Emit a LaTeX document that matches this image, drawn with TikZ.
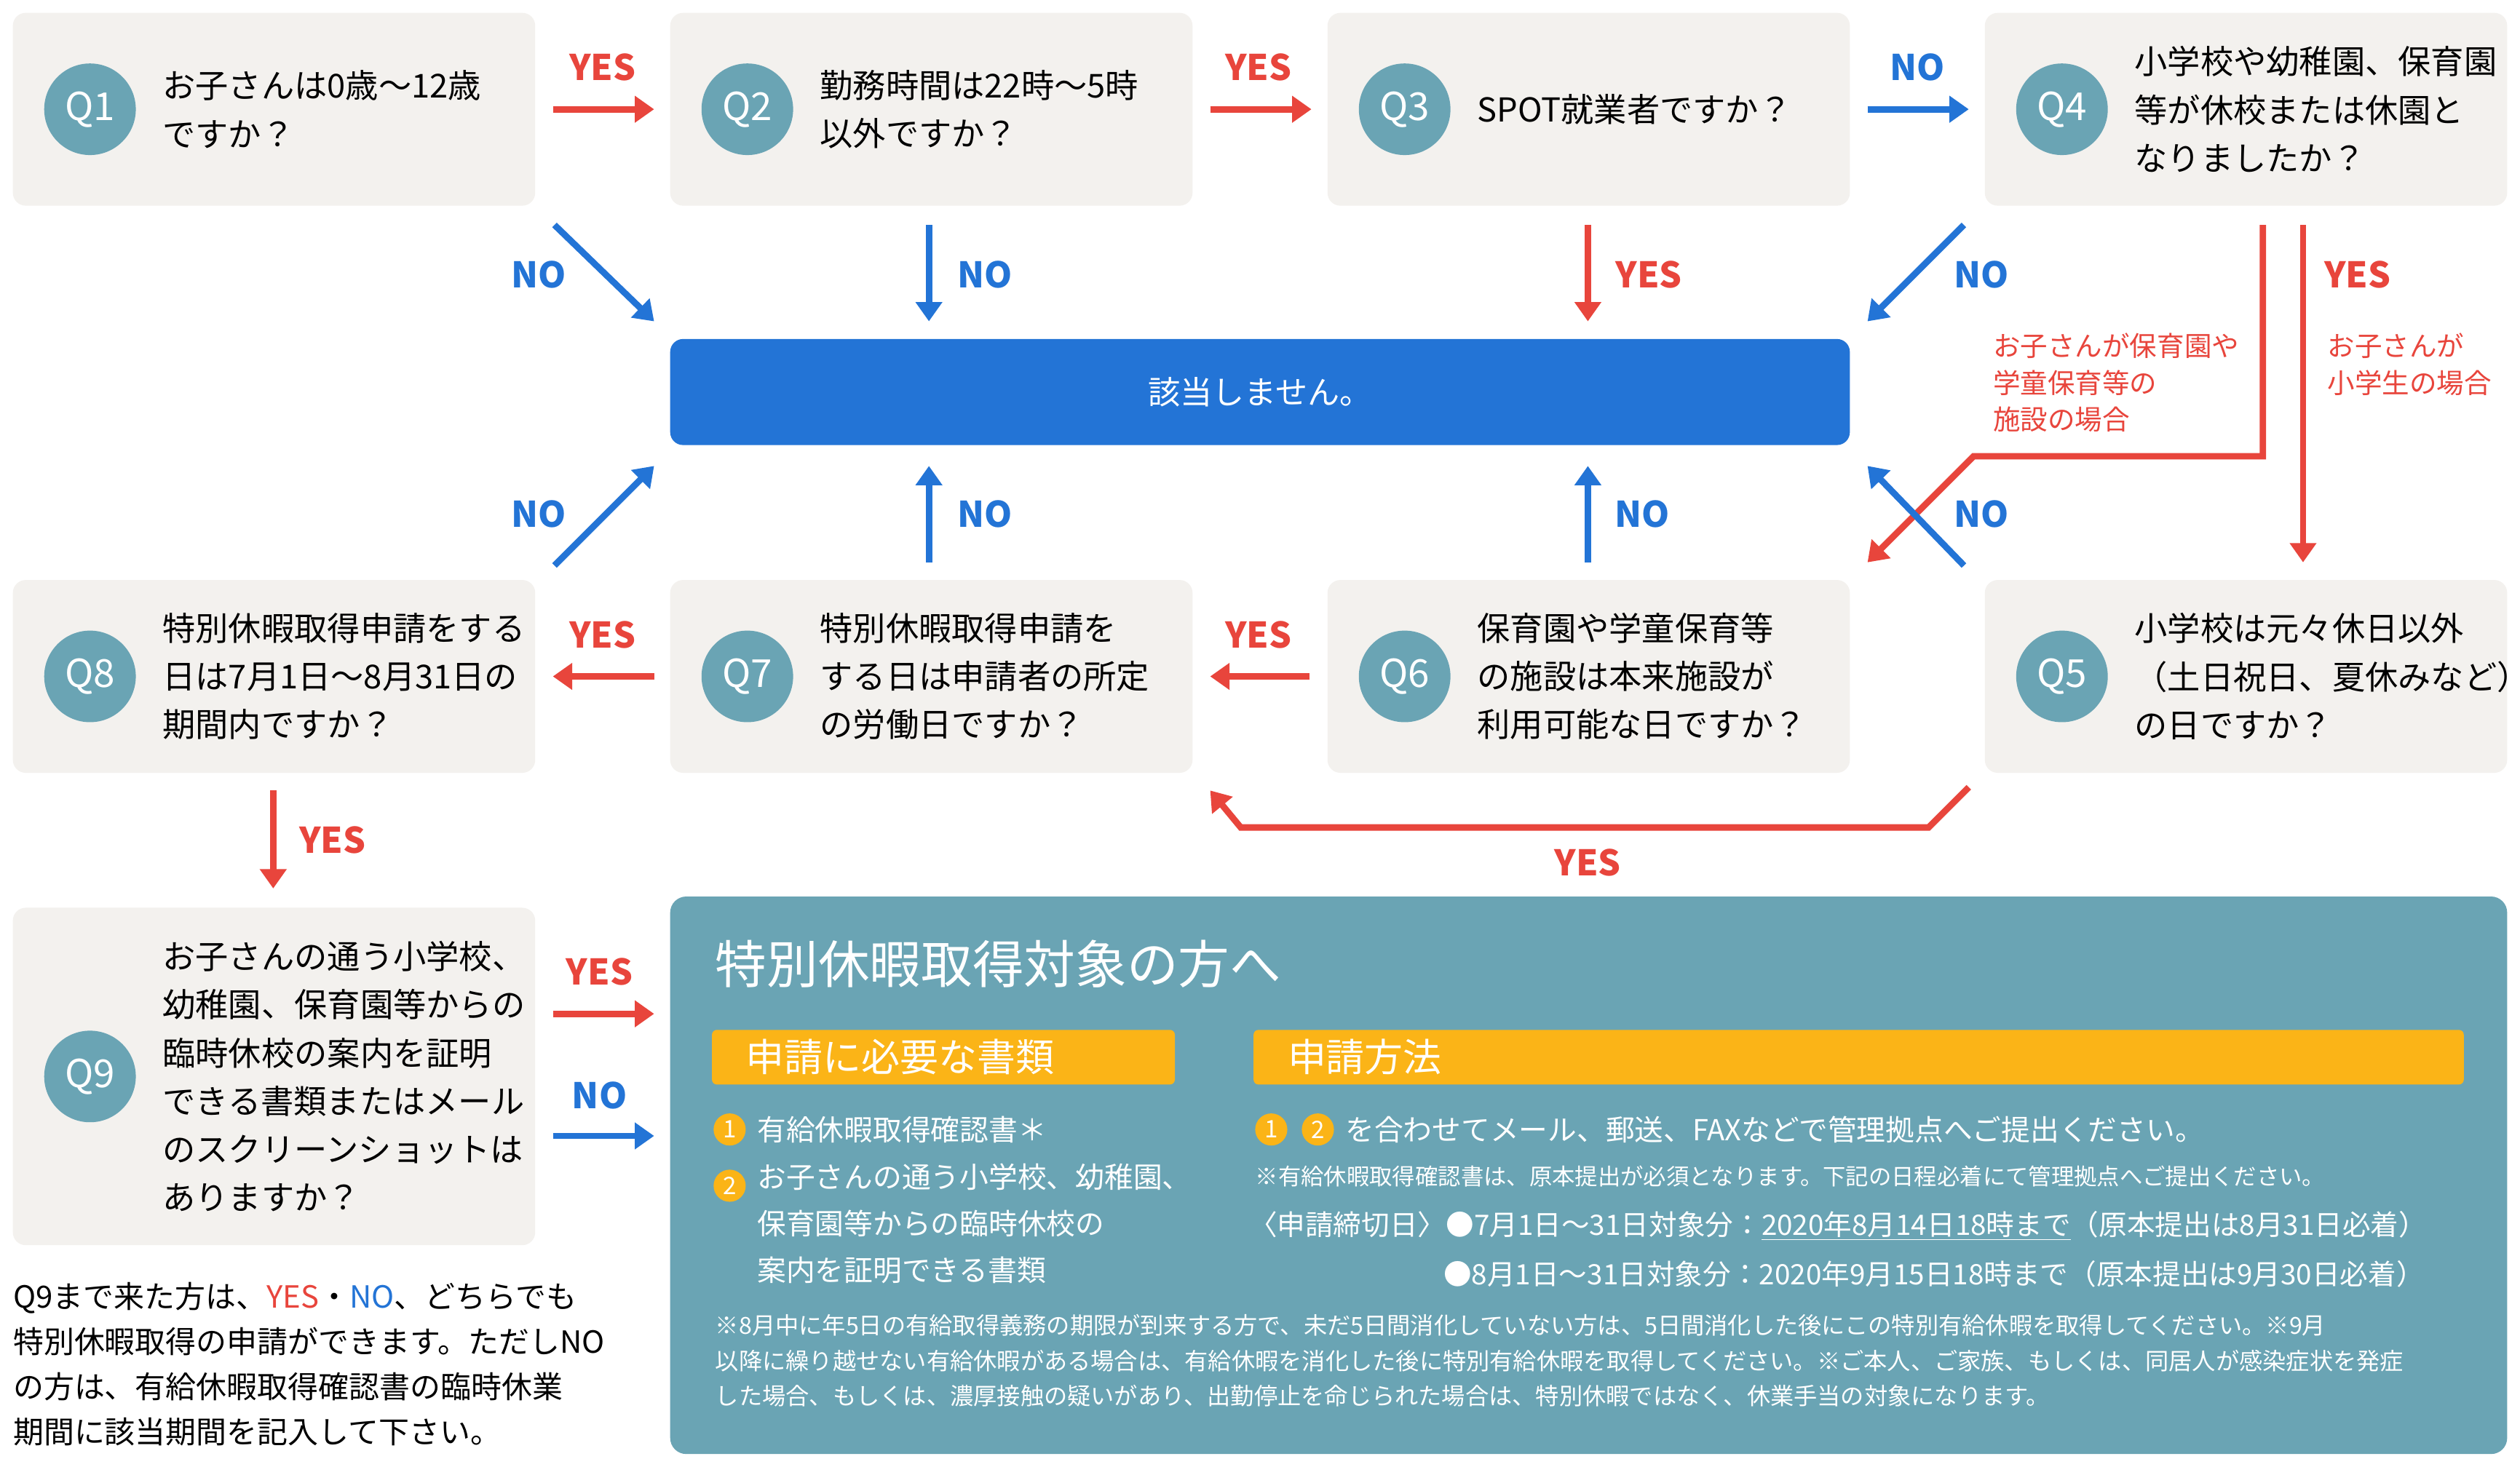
\documentclass[tikz,border=0pt]{standalone}
\usepackage{fontspec}
\setmainfont{Noto Sans CJK JP}
\usetikzlibrary{arrows.meta}
\definecolor{qbg}{HTML}{F3F1EE}
\definecolor{tealc}{HTML}{6AA4B4}
\definecolor{blu}{HTML}{2374D6}
\definecolor{rd}{HTML}{E8453C}
\definecolor{org}{HTML}{FBB417}
\tikzset{
 qbox/.style={fill=qbg,rounded corners=8pt,draw=none},
 qc/.style={circle,fill=tealc,minimum size=57pt,inner sep=0,text=white,font=\fontsize{24}{24}\selectfont},
 qt/.style={anchor=west,align=left,font=\fontsize{20.5}{30}\selectfont,inner sep=0},
 ar/.style={line width=4pt,-{Triangle[length=12pt,width=16pt]}},
 ra/.style={ar,rd}, ba/.style={ar,blu},
 yl/.style={text=rd,font=\bfseries\fontsize{22}{22}\selectfont},
 nl/.style={text=blu,font=\bfseries\fontsize{22}{22}\selectfont},
 note/.style={text=rd,anchor=north west,align=left,font=\fontsize{17}{23}\selectfont,inner sep=0},
 wt/.style={text=white,anchor=west,inner sep=0},
 num/.style={circle,fill=org,text=white,inner sep=0,minimum size=20pt,font=\fontsize{15}{15}\selectfont},
}
\begin{document}
\begin{tikzpicture}[x=1pt,y=-1pt]
\useasboundingbox[fill=white] (0,0) rectangle (1568,913);
\foreach \n/\x/\y/\h in {1/8/8/120,2/417/8/120,3/826/8/120,4/1235/8/120,8/8/361/120,7/417/361/120,6/826/361/120,5/1235/361/120,9/8/565/210}{
 \fill[qbox] (\x,\y) rectangle ++(325,\h);
 \node[qc] (c\n) at (\x+48,\y+\h/2) {Q\n};
}
\node[qt] (t1) at (101,68) {お子さんは0歳～12歳\\ですか？};
\node[qt] (t2) at (510,68) {勤務時間は22時～5時\\以外ですか？};
\node[qt] (t3) at (919,68) {SPOT就業者ですか？};
\node[qt] (t4) at (1328,68) {小学校や幼稚園、保育園\\等が休校または休園と\\なりましたか？};
\node[qt] (t8) at (101,421) {特別休暇取得申請をする\\日は7月1日～8月31日の\\期間内ですか？};
\node[qt] (t7) at (510,421) {特別休暇取得申請を\\する日は申請者の所定\\の労働日ですか？};
\node[qt] (t6) at (919,421) {保育園や学童保育等\\の施設は本来施設が\\利用可能な日ですか？};
\node[qt] (t5) at (1328,421) {小学校は元々休日以外\\（土日祝日、夏休みなど）\\の日ですか？};
\node[qt] (t9) at (101,670) {お子さんの通う小学校、\\幼稚園、保育園等からの\\臨時休校の案内を証明\\できる書類またはメール\\のスクリーンショットは\\ありますか？};
\fill[blu,rounded corners=8pt] (417,211) rectangle (1151,277);
\node[text=white,font=\fontsize{20}{20}\selectfont] (na) at (784,244) {該当しません。};
\foreach \nm/\x/\y in {a1/344/68,a2/407/68,b1/753/68,b2/816/68,c1/1162/68,c2/1225/68,
 d1/345/140,d2/407/200,e1/578/140,e2/578/200,f1/988/140,f2/988/200,g1/1222/140,g2/1162/200,
 h1/1433/140,h2/1433/350,i1/1408/140,i2/1408/284,i3/1228/284,i4/1162/350,
 j1/1222/352,j2/1162/290,k1/988/350,k2/988/290,l1/578/350,l2/578/290,m1/345/352,m2/407/290,
 n1/815/421,n2/753/421,o1/407/421,o2/344/421,p1/1225/490,p2/1200/515,p3/772/515,p4/753/492,
 q1/170/492,q2/170/553,r1/344/631,r2/407/631,s1/344/707,s2/407/707}
 \coordinate (\nm) at (\x,\y);
\draw[ra] (a1)--(a2); \node[yl] at (375,42) {YES};
\draw[ra] (b1)--(b2); \node[yl] at (783,42) {YES};
\draw[ba] (c1)--(c2); \node[nl] at (1193,42) {NO};
\draw[ba] (d1)--(d2); \node[nl] at (335,171) {NO};
\draw[ba] (e1)--(e2); \node[nl] at (613,171) {NO};
\draw[ra] (f1)--(f2); \node[yl] at (1026,171) {YES};
\draw[ba] (g1)--(g2); \node[nl] at (1233,171) {NO};
\draw[ra] (h1)--(h2); \node[yl] at (1467,171) {YES};
\draw[ra] (i1)--(i2)--(i3)--(i4);
\node[note] at (1448,207) {お子さんが\\小学生の場合};
\node[note] at (1240,207) {お子さんが保育園や\\学童保育等の\\施設の場合};
\draw[ba] (j1)--(j2); \node[nl] at (1233,320) {NO};
\draw[ba] (k1)--(k2); \node[nl] at (1022,320) {NO};
\draw[ba] (l1)--(l2); \node[nl] at (613,320) {NO};
\draw[ba] (m1)--(m2); \node[nl] at (335,320) {NO};
\draw[ra] (n1)--(n2); \node[yl] at (783,395) {YES};
\draw[ra] (o1)--(o2); \node[yl] at (375,395) {YES};
\draw[ra] (p1)--(p2)--(p3)--(p4); \node[yl] at (988,537) {YES};
\draw[ra] (q1)--(q2); \node[yl] at (207,523) {YES};
\draw[ra] (r1)--(r2); \node[yl] at (373,605) {YES};
\draw[ba] (s1)--(s2); \node[nl] at (373,682) {NO};
\node[anchor=north west,align=left,inner sep=0,font=\fontsize{19}{28}\selectfont] (bl) at (8,798)
 {Q9まで来た方は、\textcolor{rd}{YES}・\textcolor{blu}{NO}、どちらでも\\特別休暇取得の申請ができます。ただしNO\\の方は、有給休暇取得確認書の臨時休業\\期間に該当期間を記入して下さい。};
\fill[tealc,rounded corners=10pt] (417,558) rectangle (1560,905);
\node[wt,font=\fontsize{32}{32}\selectfont] (ti) at (445,600) {特別休暇取得対象の方へ};
\fill[org,rounded corners=3pt] (443,641) rectangle (731,675);
\fill[org,rounded corners=3pt] (780,641) rectangle (1533,675);
\node[wt,font=\fontsize{24}{24}\selectfont] (h1t) at (464,658) {申請に必要な書類};
\node[wt,font=\fontsize{24}{24}\selectfont] (h2t) at (801,658) {申請方法};
\node[num] (o1n) at (454,703) {1};
\node[wt,font=\fontsize{18}{18}\selectfont] at (471,703) {有給休暇取得確認書＊};
\node[num] (o2n) at (454,738) {2};
\node[wt,anchor=north west,align=left,font=\fontsize{18}{29}\selectfont] at (471,724) {お子さんの通う小学校、幼稚園、\\保育園等からの臨時休校の\\案内を証明できる書類};
\node[num] at (791,703) {1};
\node[num] at (820,703) {2};
\node[wt,font=\fontsize{18}{18}\selectfont] at (837,703) {を合わせてメール、郵送、FAXなどで管理拠点へご提出ください。};
\node[wt,font=\fontsize{14.2}{14.2}\selectfont] at (781,732) {※有給休暇取得確認書は、原本提出が必須となります。下記の日程必着にて管理拠点へご提出ください。};
\node[wt,font=\fontsize{17.5}{17.5}\selectfont] (dl1) at (777,763) {〈申請締切日〉●7月1日～31日対象分：\underline{2020年8月14日18時まで}（原本提出は8月31日必着）};
\node[wt,font=\fontsize{17.5}{17.5}\selectfont] (dl2) at (898,793) {●8月1日～31日対象分：2020年9月15日18時まで（原本提出は9月30日必着）};
\node[wt,anchor=north west,align=left,font=\fontsize{14.6}{22}\selectfont] (fn) at (445,818)
 {※8月中に年5日の有給取得義務の期限が到来する方で、未だ5日間消化していない方は、5日間消化した後にこの特別有給休暇を取得してください。※9月\\以降に繰り越せない有給休暇がある場合は、有給休暇を消化した後に特別有給休暇を取得してください。※ご本人、ご家族、もしくは、同居人が感染症状を発症\\した場合、もしくは、濃厚接触の疑いがあり、出勤停止を命じられた場合は、特別休暇ではなく、休業手当の対象になります。};
\end{tikzpicture}
\end{document}
